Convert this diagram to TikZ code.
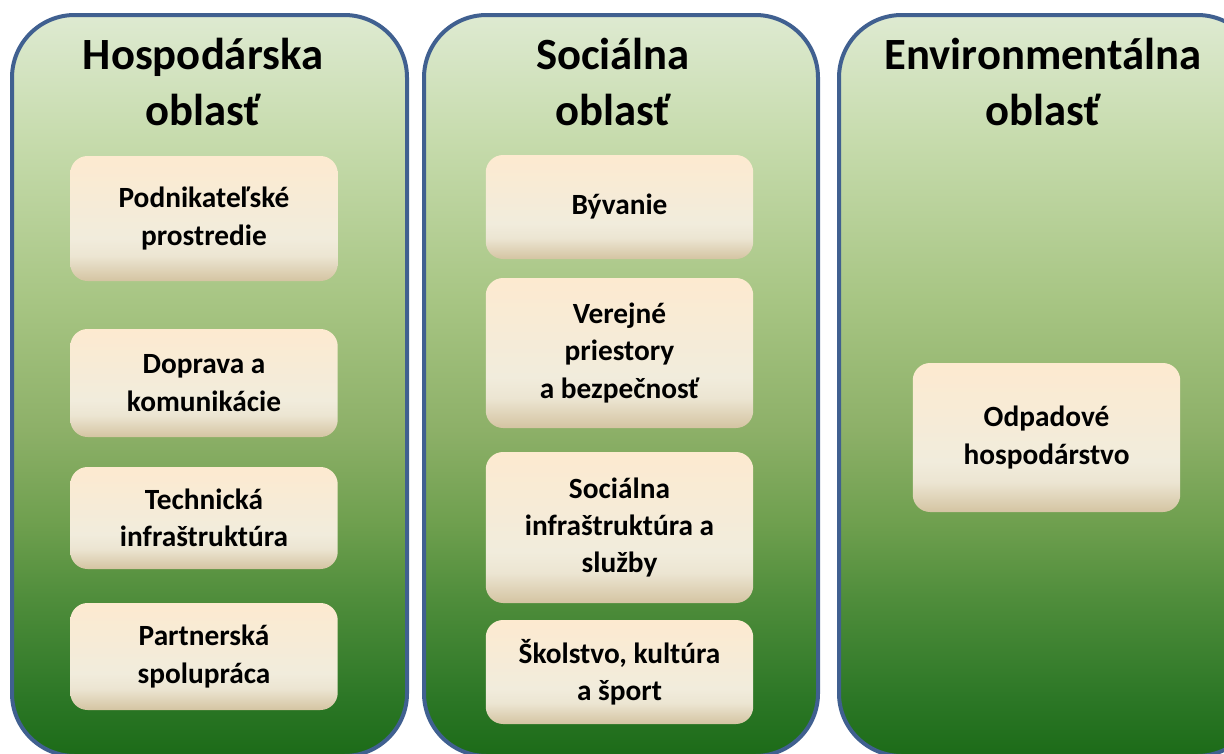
\documentclass[tikz,border=0pt]{standalone}
\usepackage{fontspec}
\setmainfont{Carlito}

\definecolor{edgeblue}{RGB}{64,96,144}
\definecolor{grn0}{RGB}{28,107,24}
\definecolor{grn1}{RGB}{44,119,38}
\definecolor{grn2}{RGB}{79,141,59}
\definecolor{grn3}{RGB}{110,159,78}
\definecolor{grn4}{RGB}{141,176,104}
\definecolor{grn5}{RGB}{167,197,131}
\definecolor{grn6}{RGB}{198,219,172}
\definecolor{grn7}{RGB}{222,234,209}
\definecolor{crm0}{RGB}{212,196,162}
\definecolor{crm1}{RGB}{236,229,210}
\definecolor{crm2}{RGB}{241,236,220}
\definecolor{crm3}{RGB}{253,234,208}

\pgfdeclareverticalshading{panelgreen}{100bp}{color(0bp)=(grn0); color(25bp)=(grn0); color(28.9bp)=(grn1); color(35.6bp)=(grn2); color(40.6bp)=(grn3); color(47bp)=(grn4); color(55.7bp)=(grn5); color(66.5bp)=(grn6); color(75bp)=(grn7); color(100bp)=(grn7)}
\pgfdeclareverticalshading{boxcream}{100bp}{color(0bp)=(crm0); color(25bp)=(crm0); color(35bp)=(crm1); color(42bp)=(crm2); color(75bp)=(crm3); color(100bp)=(crm3)}

\tikzset{every picture/.style={line width=0.75pt}}
\tikzset{
  panel/.style={draw=edgeblue, line width=3pt, rounded corners=47pt, shading=panelgreen},
  heading/.style={align=center, inner sep=0pt, font=\fontsize{33.5}{42}\selectfont\bfseries},
  area/.style={rectangle, rounded corners=13pt, shading=boxcream, inner sep=0pt,
    minimum width=200.6pt, align=center, font=\fontsize{22}{28}\selectfont\bfseries}
}

\begin{document}
\begin{tikzpicture}[x=0.75pt,y=0.75pt,yscale=-1,xscale=1]
\useasboundingbox (0,0) rectangle (1224,753);
\clip (0,0) rectangle (1224,753);

%Rounded Rect: three columns
\path [panel] (12,15) rectangle (407,756);
\path [panel] (424,15) rectangle (818,756);
\path [panel] (839,15) rectangle (1260,756);

%Column headings
\draw (203,82) node [heading] (hosp) {Hospodárska\\oblasť};
\draw (613,82) node [heading] (soc) {Sociálna\\oblasť};
\draw (1043,82) node [heading] (env) {Environmentálna\\oblasť};

%Hospodárska oblasť
\draw (204,218.5) node [area, minimum height=93.75pt] (podnik) {Podnikateľské\\prostredie};
\draw (204,383) node [area, minimum height=81pt] (doprava) {Doprava a\\komunikácie};
\draw (204,518) node [area, minimum height=76.5pt] (tech) {Technická\\infraštruktúra};
\draw (204,656.5) node [area, minimum height=80.25pt] (partner) {Partnerská\\spolupráca};

%Sociálna oblasť
\draw (619.5,207) node [area, minimum height=78pt] (byvanie) {Bývanie};
\draw (619.5,353) node [area, minimum height=112.5pt] (verejne) {Verejné\\priestory\\a bezpečnosť};
\draw (619.5,527.5) node [area, minimum height=113.25pt] (sluzby) {Sociálna\\infraštruktúra a\\služby};
\draw (619.5,672) node [area, minimum height=78pt] (skolstvo) {Školstvo, kultúra\\a šport};

%Environmentálna oblasť
\draw (1046.5,437.5) node [area, minimum height=111.75pt] (odpad) {Odpadové\\hospodárstvo};

\end{tikzpicture}
\end{document}
